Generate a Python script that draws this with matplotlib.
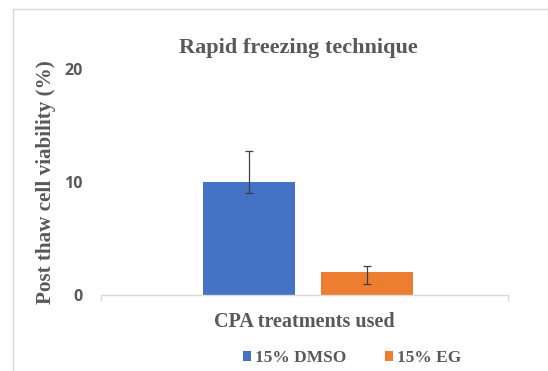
import matplotlib.pyplot as plt
from matplotlib.patches import Rectangle

# Post-thaw viability per cryoprotectant
treatments = ["15% DMSO", "15% EG"]
viability = [10.0, 2.0]
err_minus = [1.0, 1.0]
err_plus = [2.75, 0.55]
colors = ["#4472C4", "#ED7D31"]
offsets = [-0.136, 0.154]
y_ticks = [0, 10, 20]

gray = "#595959"
serif = ["Liberation Serif", "DejaVu Serif"]

fig = plt.figure(figsize=(5.48, 3.71), dpi=100)
ax = fig.add_axes([0.1843, 0.2049, 0.7427, 0.609])

for name, v, lo, hi, c, off in zip(treatments, viability, err_minus, err_plus, colors, offsets):
    ax.bar(off, v, width=0.226, color=c, label=name, zorder=2)
    ax.errorbar(off, v, yerr=[[lo], [hi]], fmt="none", ecolor="#404040",
                elinewidth=0.9, capsize=3, capthick=0.9, zorder=3)

ax.set_xlim(-0.5, 0.5)
ax.set_ylim(0, 20)
ax.set_yticks(y_ticks)
ax.set_xticks([-0.5, 0.5])
ax.set_xticklabels([])
ax.tick_params(axis="x", direction="out", length=4, color="#D9D9D9", width=1)
ax.tick_params(axis="y", length=0, pad=13, labelcolor=gray, labelsize=11.5)
for lbl in ax.get_yticklabels():
    lbl.set_fontweight("bold")
    lbl.set_family(["Open Sans", "DejaVu Sans"])

for side in ["top", "right", "left"]:
    ax.spines[side].set_visible(False)
ax.spines["bottom"].set_color("#D9D9D9")
ax.spines["bottom"].set_linewidth(1)

ax.set_title("Rapid freezing technique", family=serif, fontweight="bold",
             fontsize=16, color=gray, pad=11.5, x=0.484)
ax.set_xlabel("CPA treatments used", family=serif, fontweight="bold",
              fontsize=14.5, color=gray)
ax.xaxis.set_label_coords(0.50, -0.075)
ax.set_ylabel("Post thaw cell viability (%)", family=serif, fontweight="bold",
              fontsize=15.2, color=gray, labelpad=6)

leg = fig.legend(loc="center", bbox_to_anchor=(0.643, 0.035), ncol=2, frameon=False,
                 handlelength=0.46, handleheight=0.46, handletextpad=0.25, columnspacing=2.2,
                 prop={"family": serif, "weight": "bold", "size": 12.5})
for t in leg.get_texts():
    t.set_color(gray)

# chart area border
fig.patches.append(Rectangle((13 / 548, -0.1), 1.2, 1 - 9 / 371 + 0.1,
                             transform=fig.transFigure, fill=False,
                             edgecolor="#D9D9D9", linewidth=1))

fig.savefig("out.png", dpi=100)
